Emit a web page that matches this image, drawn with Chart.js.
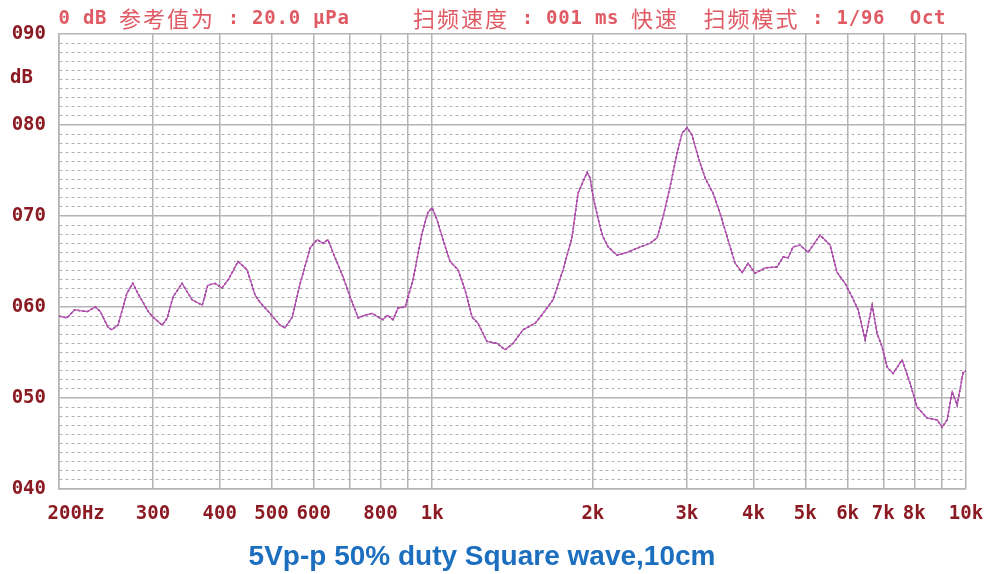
<!DOCTYPE html>
<html>
<head>
<meta charset="utf-8">
<title>Frequency response</title>
<script src="https://cdn.jsdelivr.net/npm/chart.js@4/dist/chart.umd.min.js"></script>
<style>
    html, body { margin: 0; padding: 0; background: #ffffff; }
    canvas { display: block; }
</style>
</head>
<body>
<canvas id="responseChart" width="990" height="574"></canvas>
<script>
// Sweep points (Hz, dB)
const freqHz = [200, 207, 214, 219, 226, 234, 239, 247, 251, 258,
    268, 275, 281, 294, 300, 312, 319, 327, 340, 355,
    371, 380, 392, 404, 415, 433, 450, 466, 476, 497,
    519, 530, 547, 566, 591, 609, 625, 638, 658, 681,
    702, 727, 749, 772, 792, 809, 824, 845, 863, 890,
    921, 957, 982, 1000, 1021, 1048, 1080, 1118, 1152, 1188,
    1219, 1267, 1323, 1370, 1418, 1480, 1559, 1613, 1685, 1759,
    1829, 1876, 1951, 1976, 2002, 2063, 2090, 2136, 2220, 2318,
    2452, 2560, 2638, 2707, 2790, 2876, 2939, 3003, 3068, 3149,
    3245, 3359, 3462, 3569, 3694, 3807, 3907, 4026, 4204, 4427,
    4543, 4642, 4743, 4889, 5060, 5329, 5564, 5735, 5936, 6118,
    6279, 6472, 6670, 6815, 6964, 7116, 7303, 7592, 7858, 8099,
    8456, 8829, 9022, 9219, 9420, 9625, 9877, 10000];

const levelDb = [59.0, 58.8, 59.7, 59.6, 59.5, 60.0, 59.5, 57.8, 57.5, 58.0,
    61.5, 62.6, 61.5, 59.5, 58.9, 58.0, 58.8, 61.1, 62.6, 60.8,
    60.2, 62.4, 62.6, 62.1, 63.0, 65.0, 64.1, 61.3, 60.5, 59.3,
    58.0, 57.7, 58.9, 62.6, 66.5, 67.4, 67.0, 67.4, 65.4, 63.3,
    61.1, 58.8, 59.1, 59.3, 58.9, 58.6, 59.1, 58.6, 59.9, 60.0,
    63.0, 68.1, 70.4, 70.9, 69.6, 67.4, 65.0, 64.1, 61.9, 58.9,
    58.2, 56.2, 56.0, 55.3, 56.0, 57.5, 58.2, 59.3, 60.8, 64.1,
    67.7, 72.5, 74.8, 74.2, 72.1, 68.8, 67.7, 66.6, 65.7, 66.0,
    66.6, 67.0, 67.6, 69.9, 73.2, 76.9, 79.1, 79.7, 78.9, 76.5,
    74.2, 72.5, 70.3, 67.7, 64.8, 63.8, 64.8, 63.7, 64.3, 64.4,
    65.5, 65.4, 66.6, 66.8, 66.0, 67.9, 66.8, 63.8, 62.6, 61.1,
    59.7, 56.4, 60.2, 57.1, 55.6, 53.4, 52.7, 54.2, 51.6, 49.0,
    47.8, 47.6, 46.8, 47.6, 50.7, 49.2, 52.8, 53.0];

// Vertical grid positions and their labels (700 and 900 have no label)
const freqGrid = [200, 300, 400, 500, 600, 700, 800, 900, 1000,
    2000, 3000, 4000, 5000, 6000, 7000, 8000, 9000, 10000];
const freqLabels = ["   200Hz", "300", "400", "500", "600", "", "800", "", "1k",
    "2k", "3k", "4k", "5k", "6k", "7k", "8k", "", "10k"];

const headerLeft = "0 dB 参考值为 : 20.0 μPa";
const headerRight = "扫频速度 : 001 ms 快速  扫频模式 : 1/96  Oct";
const captionText = "5Vp-p 50% duty Square wave,10cm";

document.addEventListener("DOMContentLoaded", () => {
    const labelColor = "#8b1a22";
    const tickFont = { family: "'DejaVu Sans Mono', monospace", size: 19, weight: "bold" };

    // Draws mixed latin / CJK text on a fixed character cell like the analyser screen
    function drawMixed(ctx, text, x, y) {
        for (const ch of text) {
            if (/[\u2E80-\u9FFF]/.test(ch)) {
                ctx.font = "22px 'Noto Sans CJK SC'";
                ctx.fillText(ch, x, y);
                x += 24;
            } else {
                ctx.font = "bold 19px 'DejaVu Sans Mono'";
                ctx.fillText(ch, x + 0.5, y);
                x += 12.2;
            }
        }
    }

    const textPlugin = {
        id: "screenText",
        afterDraw(chart) {
            const ctx = chart.ctx;
            const yScale = chart.scales.y;
            ctx.save();
            ctx.textBaseline = "middle";
            ctx.textAlign = "left";
            ctx.fillStyle = "#e05a64";
            drawMixed(ctx, headerLeft, 58, 19);
            drawMixed(ctx, headerRight, 413, 19);

            // unit under the top tick
            ctx.fillStyle = labelColor;
            ctx.font = "bold 19px 'DejaVu Sans Mono'";
            ctx.fillText("dB", 10, yScale.getPixelForValue(85.2));

            // caption
            ctx.fillStyle = "#1c6ebf";
            ctx.font = "bold 28px 'Liberation Sans', Arial, sans-serif";
            ctx.textAlign = "center";
            ctx.textBaseline = "alphabetic";
            ctx.fillText(captionText, 482, 565);
            ctx.restore();
        }
    };

    const points = freqHz.map((f, i) => ({ x: f, y: levelDb[i] }));

    const ctx = document.getElementById("responseChart").getContext("2d");
    new Chart(ctx, {
        type: "line",
        data: {
            datasets: [{
                data: points,
                borderColor: "#b94fb7",
                borderWidth: 1.2,
                pointRadius: 0,
                tension: 0
            }, {
                data: points,
                borderColor: "#5a2358",
                borderWidth: 1.5,
                borderDash: [2.5, 2],
                pointRadius: 0,
                tension: 0
            }]
        },
        options: {
            responsive: false,
            animation: false,
            devicePixelRatio: 1,
            layout: { padding: { top: 34, right: 24, bottom: 45, left: 0 } },
            plugins: {
                legend: { display: false },
                tooltip: { enabled: false }
            },
            scales: {
                x: {
                    type: "logarithmic",
                    min: 200,
                    max: 10000,
                    afterBuildTicks: (scale) => {
                        scale.ticks = freqGrid.map(v => ({ value: v }));
                    },
                    afterFit: (scale) => {
                        scale.height = 40;
                        scale.paddingLeft = 0;
                        scale.paddingRight = 0;
                    },
                    ticks: {
                        autoSkip: false,
                        maxRotation: 0,
                        minRotation: 0,
                        padding: 14,
                        color: labelColor,
                        font: tickFont,
                        callback: (value) => {
                            const i = freqGrid.indexOf(value);
                            return i >= 0 ? freqLabels[i] : "";
                        }
                    },
                    grid: { color: "#b4b4b4", lineWidth: 1.5, drawTicks: false },
                    border: { display: true, color: "#b4b4b4", width: 1.5 }
                },
                y: {
                    min: 40,
                    max: 90,
                    afterFit: (scale) => {
                        scale.width = 59;
                        scale.paddingTop = 0;
                        scale.paddingBottom = 0;
                    },
                    ticks: {
                        stepSize: 1,
                        autoSkip: false,
                        padding: 13,
                        color: labelColor,
                        font: tickFont,
                        callback: (value) => value % 10 === 0 ? String(value).padStart(3, "0") : ""
                    },
                    grid: {
                        drawTicks: false,
                        color: (c) => c.tick && c.tick.value % 10 === 0 ? "#b4b4b4" : "#b0b0b0",
                        lineWidth: (c) => c.tick && c.tick.value % 10 === 0 ? 1.5 : 1
                    },
                    border: {
                        display: true,
                        color: "#b4b4b4",
                        width: 1.5,
                        dash: (c) => c.tick && c.tick.value % 10 !== 0 ? [3, 3] : []
                    }
                }
            }
        },
        plugins: [textPlugin]
    });
});
</script>
</body>
</html>
